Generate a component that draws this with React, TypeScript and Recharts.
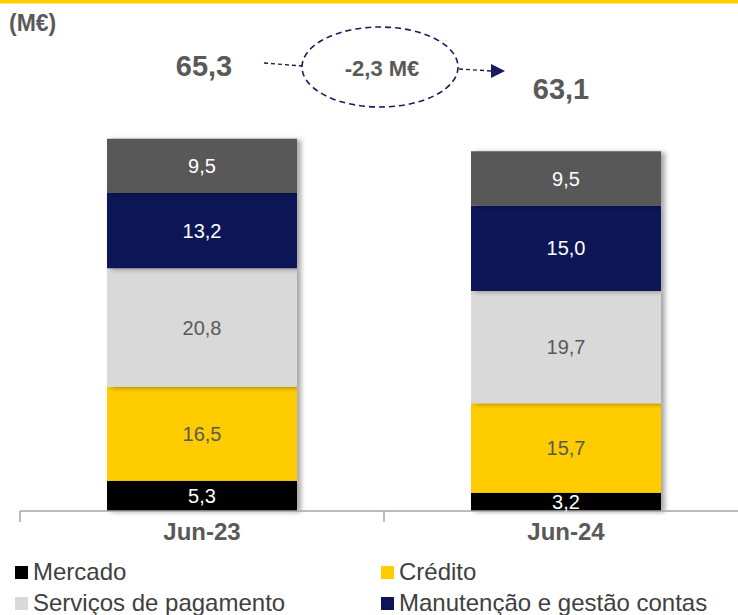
import React from 'react';
import { BarChart, Bar, XAxis, YAxis, Legend, LabelList } from 'recharts';

// Fee & commission breakdown (M€)
const periods = ['Jun-23', 'Jun-24'];
const mercado = [5.3, 3.2];
const credito = [16.5, 15.7];
const servicos = [20.8, 19.7];
const manutencao = [13.2, 15.0];
const outros = [9.5, 9.5];

const seriesNames = {
  mercado: 'Mercado',
  credito: 'Crédito',
  servicos: 'Serviços de pagamento',
  manutencao: 'Manutenção e gestão contas',
  outros: 'Outros',
};

const variationLabel = '-2,3 M€';

const data = periods.map((p, i) => ({
  period: p,
  mercado: mercado[i],
  credito: credito[i],
  servicos: servicos[i],
  manutencao: manutencao[i],
  outros: outros[i],
  total: mercado[i] + credito[i] + servicos[i] + manutencao[i] + outros[i],
}));

const FONT = '"Liberation Sans", Arial, sans-serif';
const GREY = '#595959';
const NAVY = '#1a1a5e';
const AXIS = '#a6a6a6';

// plot geometry (chart is wider than the page, right band runs off-screen)
const PLOT_LEFT = 20;
const PLOT_RIGHT = 748;
const PLOT_BOTTOM = 511;

const fmt = (v: any) => Number(v).toFixed(1).replace('.', ',');

// totals sit a bit off-centre above each bar
const totalDx = [2, -5];
const totalDy = [-73, -62];

const TotalLabel = (props: any) => {
  const { x, y, width, value, index } = props;
  return (
    <text
      x={x + width / 2 + totalDx[index]}
      y={y + totalDy[index]}
      textAnchor="middle"
      dominantBaseline="central"
      fontFamily={FONT}
      fontWeight="bold"
      fontSize={29}
      fill={GREY}
    >
      {fmt(value)}
    </text>
  );
};

const legendItems = [
  { key: 'mercado', color: '#000000' },
  { key: 'credito', color: '#ffcc00' },
  { key: 'servicos', color: '#d9d9d9' },
  { key: 'manutencao', color: '#0d1457' },
];

const LegendContent = () => (
  <div
    style={{
      display: 'grid',
      gridTemplateColumns: '366px 366px',
      rowGap: 7,
      fontFamily: FONT,
      fontSize: 24,
      color: '#404040',
      lineHeight: '24px',
    }}
  >
    {legendItems.map((it) => (
      <div key={it.key} style={{ display: 'flex', alignItems: 'center', paddingLeft: 15 }}>
        <span style={{ width: 13, height: 13, background: it.color, marginRight: 5, display: 'inline-block' }} />
        <span>{(seriesNames as any)[it.key]}</span>
      </div>
    ))}
  </div>
);

const segLabel = (fill: string) => ({
  position: 'center' as const,
  fill,
  fontSize: 20,
  fontFamily: FONT,
  formatter: fmt,
});

const App: React.FC = () => {
  const band = (PLOT_RIGHT - PLOT_LEFT) / periods.length;
  const edges = Array.from({ length: periods.length + 1 }, (_, i) => PLOT_LEFT + i * band);

  return (
    <div style={{ position: 'fixed', left: 0, top: 0, width: 738, height: 615, overflow: 'hidden', background: '#fff' }}>
      <BarChart
        width={760}
        height={615}
        data={data}
        margin={{ top: 55, right: 760 - PLOT_RIGHT, left: PLOT_LEFT, bottom: 74 }}
        barSize={190}
      >
        <defs>
          <filter id="shade" x="-10%" y="-10%" width="130%" height="130%">
            <feDropShadow dx={4} dy={1} stdDeviation={2.5} floodColor="#000" floodOpacity={0.35} />
          </filter>
        </defs>
        <XAxis
          dataKey="period"
          axisLine={{ stroke: AXIS, strokeWidth: 1.5 }}
          tickLine={false}
          tickSize={0}
          tickMargin={12}
          height={30}
          tick={{ fill: GREY, fontSize: 24, fontWeight: 'bold', fontFamily: FONT }}
        />
        <YAxis hide domain={[0, 80]} />
        <Legend
          layout="horizontal"
          verticalAlign="middle"
          align="center"
          content={<LegendContent />}
          wrapperStyle={{ top: 560, left: 0, width: 738 }}
        />
        <Bar dataKey="mercado" name={seriesNames.mercado} stackId="a" fill="#000000" isAnimationActive={false} filter="url(#shade)">
          <LabelList dataKey="mercado" {...segLabel('#ffffff')} />
        </Bar>
        <Bar dataKey="credito" name={seriesNames.credito} stackId="a" fill="#ffcc00" isAnimationActive={false} filter="url(#shade)">
          <LabelList dataKey="credito" {...segLabel(GREY)} />
        </Bar>
        <Bar dataKey="servicos" name={seriesNames.servicos} stackId="a" fill="#d9d9d9" isAnimationActive={false} filter="url(#shade)">
          <LabelList dataKey="servicos" {...segLabel(GREY)} />
        </Bar>
        <Bar dataKey="manutencao" name={seriesNames.manutencao} stackId="a" fill="#0d1457" isAnimationActive={false} filter="url(#shade)">
          <LabelList dataKey="manutencao" {...segLabel('#ffffff')} />
        </Bar>
        <Bar dataKey="outros" name={seriesNames.outros} stackId="a" fill="#595959" isAnimationActive={false} filter="url(#shade)">
          <LabelList dataKey="outros" {...segLabel('#ffffff')} />
          <LabelList dataKey="total" content={<TotalLabel />} />
        </Bar>
      </BarChart>
      {/* frame decorations: top rule, unit, band edge ticks, variation callout */}
      <svg
        width={738}
        height={615}
        style={{ position: 'absolute', left: 0, top: 0, pointerEvents: 'none' }}
      >
        <rect x={0} y={0} width={738} height={3.5} fill="#ffcc00" />
        <text x={9} y={23} dominantBaseline="central" fontFamily={FONT} fontWeight="bold" fontSize={23} fill={GREY}>
          (M€)
        </text>
        {edges.map((x) => (
          <line key={x} x1={x} y1={PLOT_BOTTOM} x2={x} y2={PLOT_BOTTOM + 11} stroke={AXIS} strokeWidth={1.5} />
        ))}
        <ellipse cx={380} cy={67} rx={78} ry={40} fill="none" stroke={NAVY} strokeWidth={1.6} strokeDasharray="6 4" />
        <line x1={264} y1={63} x2={302} y2={66} stroke={NAVY} strokeWidth={1.4} strokeDasharray="4 3" />
        <line x1={459} y1={69} x2={492} y2={71} stroke={NAVY} strokeWidth={1.4} strokeDasharray="4 3" />
        <polygon points="491,64 505,71 491,78" fill={NAVY} />
        <text
          x={382}
          y={68}
          textAnchor="middle"
          dominantBaseline="central"
          fontFamily={FONT}
          fontWeight="bold"
          fontSize={22}
          fill={GREY}
        >
          {variationLabel}
        </text>
      </svg>
    </div>
  );
};

export default App;
